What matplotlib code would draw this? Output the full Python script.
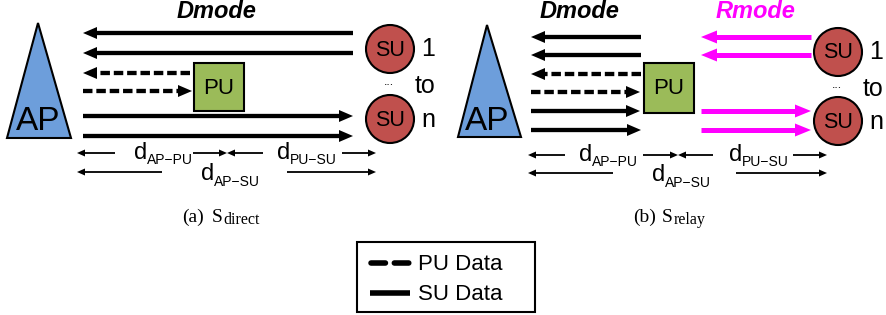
import numpy as np
import matplotlib
matplotlib.use("Agg")
import matplotlib.pyplot as plt
from matplotlib.patches import Polygon, Rectangle, Circle

# ---------------- data (pixel layout of the diagram) ----------------
# Panel (a) S_direct
a_rows_y = [33, 53, 73, 91, 116, 136]
a_x_from = [353, 353, 190, 83, 83, 83]
a_x_to = [83, 83, 83, 192, 353, 353]
a_dashed = [False, False, True, True, False, False]

# Panel (b) S_relay : black (Dmode) arrows
b_rows_y = [37, 55, 74, 92, 111, 130]
b_x_from = [641, 641, 641, 531, 531, 531]
b_x_to = [531, 531, 531, 640, 640, 641]
b_dashed = [False, False, True, True, False, False]
# magenta (Rmode) arrows
r_rows_y = [37, 55, 111, 130]
r_x_from = [811, 811, 701, 701]
r_x_to = [701, 701, 811, 811]

# Triangles (AP): apex, base-left, base-right
ap_a = [(38, 23), (7, 138), (71, 138)]
ap_b = [(487, 25), (458, 137), (521, 137)]
# PU boxes: x0, y0, x1, y1
pu_a = (194, 63, 244, 111)
pu_b = (644, 63, 694, 113)
# SU circles
su_a = [(390, 49), (390, 119)]
su_b = [(838, 52), (838, 121)]
su_r = 24

# Distance arrows: (x_from, x_to, y)
dist_a = [(115, 77, 153), (193, 227, 153), (263, 227, 153), (342, 376, 153),
          (162, 77, 172), (287, 376, 172)]
dist_b = [(565, 528, 155), (643, 678, 155), (713, 678, 155), (793, 827, 155),
          (613, 528, 173), (736, 827, 173)]
# Distance labels: (x_d, baseline_d, x_sub, baseline_sub, subscript)
dlab_a = [(134, 159, 147, 164, "AP\u2212PU"), (277, 159, 290, 164, "PU\u2212SU"),
          (201, 180, 214, 186, "AP\u2212SU")]
dlab_b = [(579, 161, 592, 166, "AP\u2212PU"), (729, 161, 742, 166, "PU\u2212SU"),
          (652, 181, 665, 187, "AP\u2212SU")]

# Captions: (label, x_label, x_S, x_sub, subscript)
captions = [("(a)", 182, 212, 223, "direct"), ("(b)", 633, 662, 674, "relay")]

legend_labels = ["PU Data", "SU Data"]

BLUE = "#6D9EDB"
GREEN = "#9BBB59"
RED = "#C0504D"
MAGENTA = "#FF00FF"
SANS = "Liberation Sans"
SERIF = "Liberation Serif"

W, H = 886, 315
fig = plt.figure(figsize=(W / 100, H / 100), dpi=100)
ax = fig.add_axes([0, 0, 1, 1])
ax.set_xlim(0, W)
ax.set_ylim(H, 0)
ax.axis("off")


def arrow(x0, x1, y, color="black", lw=3.1, dashed=False, hl=14, hw=6, z=3):
    d = np.sign(x1 - x0)
    xb = x1 - d * hl
    kw = dict(color=color, lw=lw, solid_capstyle="butt", dash_capstyle="butt", zorder=z)
    if dashed:
        ax.plot([x0, xb + d], [y, y], dashes=(2.2, 0.9), **kw)
    else:
        ax.plot([x0, xb + d], [y, y], **kw)
    ax.fill([x1, xb, xb], [y, y - hw, y + hw], color=color, lw=0, zorder=z)


def panel(ap, pu, sus, rows_y, xf, xt, dashed):
    ax.add_patch(Polygon(ap, closed=True, fc=BLUE, ec="black", lw=1.5, zorder=2))
    cx = ap[0][0]
    ax.text(cx, 121, "AP", fontsize=24, family=SANS, ha="center", va="center", zorder=4)
    x0, y0, x1, y1 = pu
    ax.add_patch(Rectangle((x0, y0), x1 - x0, y1 - y0, fc=GREEN, ec="black", lw=1.5, zorder=2))
    ax.text((x0 + x1) / 2, (y0 + y1) / 2 + 1, "PU", fontsize=16, family=SANS,
            ha="center", va="center", zorder=4)
    for (sx, sy) in sus:
        ax.add_patch(Circle((sx, sy), su_r, fc=RED, ec="black", lw=1.5, zorder=2))
        ax.text(sx, sy + 1, "SU", fontsize=15.5, family=SANS, ha="center", va="center", zorder=4)
    sx = sus[0][0]
    ax.text(sx + 38, sus[0][1], "1", fontsize=18, family=SANS, ha="center", va="center")
    ax.text(sx + 35, (sus[0][1] + sus[1][1]) / 2 + 2, "to", fontsize=18, family=SANS,
            ha="center", va="center")
    ax.text(sx + 38, sus[1][1] + 1, "n", fontsize=18, family=SANS, ha="center", va="center")
    ax.text(sx - 1, (sus[0][1] + sus[1][1]) / 2 - 2, "...", fontsize=9, family=SANS,
            ha="center", va="center")
    for y, a, b, d in zip(rows_y, xf, xt, dashed):
        arrow(a, b, y, dashed=d)


def distances(dist, labels):
    for a, b, y in dist:
        arrow(a, b, y, lw=1.3, hl=8, hw=3.5)
    for xd, yd, xs, ys, sub in labels:
        ax.text(xd, yd, "d", fontsize=17, family=SANS, ha="left", va="baseline")
        ax.text(xs, ys, sub, fontsize=10, family=SANS, ha="left", va="baseline")


panel(ap_a, pu_a, su_a, a_rows_y, a_x_from, a_x_to, a_dashed)
panel(ap_b, pu_b, su_b, b_rows_y, b_x_from, b_x_to, b_dashed)
for y, a, b in zip(r_rows_y, r_x_from, r_x_to):
    arrow(a, b, y, color=MAGENTA, lw=3.6, hl=16, hw=6.5)
distances(dist_a, dlab_a)
distances(dist_b, dlab_b)

# Mode titles
ax.text(217, 12, "Dmode", fontsize=17, family=SANS, weight="bold", style="italic",
        ha="center", va="center")
ax.text(580, 12, "Dmode", fontsize=17, family=SANS, weight="bold", style="italic",
        ha="center", va="center")
ax.text(756, 12, "Rmode", fontsize=17, family=SANS, weight="bold", style="italic",
        color=MAGENTA, ha="center", va="center")

# Captions
for lab, xl, xs, xsub, sub in captions:
    ax.text(xl, 222, lab, fontsize=14, family=SERIF, ha="left", va="baseline")
    ax.text(xs, 222, "S", fontsize=14, family=SERIF, ha="left", va="baseline")
    ax.text(xsub, 224, sub, fontsize=11.5, family=SERIF, ha="left", va="baseline")

# Legend
ax.add_patch(Rectangle((357, 242), 178, 70, fc="white", ec="black", lw=1.5, zorder=2))
ax.plot([371, 409], [263, 263], color="black", lw=4, dashes=(2.6, 1.6),
        dash_capstyle="round", zorder=3)
ax.plot([370, 410], [293, 293], color="black", lw=4, solid_capstyle="butt", zorder=3)
ax.text(418, 264, legend_labels[0], fontsize=16, family=SANS, ha="left", va="center", zorder=4)
ax.text(418, 294, legend_labels[1], fontsize=16, family=SANS, ha="left", va="center", zorder=4)

fig.savefig("out.png", dpi=100)
